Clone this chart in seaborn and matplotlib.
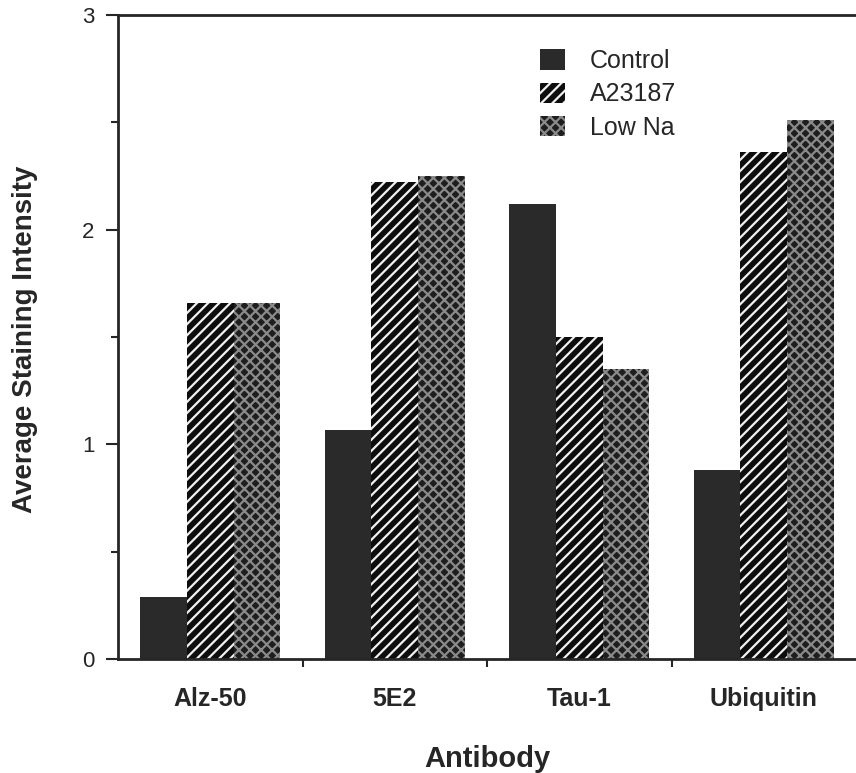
import pandas as pd
import matplotlib.pyplot as plt
import seaborn as sns
from matplotlib.ticker import MultipleLocator, FixedLocator

# Data
antibodies = ['Alz-50', '5E2', 'Tau-1', 'Ubiquitin']
treatments = ['Control', 'A23187', 'Low Na']
control = [0.29, 1.065, 2.12, 0.88]
a23187 = [1.66, 2.22, 1.50, 2.36]
low_na = [1.66, 2.25, 1.35, 2.51]

df = pd.DataFrame({
    'Antibody': antibodies * 3,
    'Treatment': [t for t in treatments for _ in antibodies],
    'Intensity': control + a23187 + low_na,
})

sns.set_style('ticks')
plt.rcParams['font.family'] = ['Liberation Sans', 'DejaVu Sans']
plt.rcParams['hatch.linewidth'] = 1.6

fig = plt.figure(figsize=(8.56, 7.73), dpi=100)
ax = fig.add_axes([0.138, 0.1475, 0.862, 0.833])

sns.barplot(data=df, x='Antibody', y='Intensity', hue='Treatment',
            order=antibodies, hue_order=treatments, width=0.76,
            palette=['#2a2a2a', '#111111', '#3a3a3a'], saturation=1,
            errorbar=None, ax=ax)

# fill patterns
styles = [('#2a2a2a', '#2a2a2a', ''), ('#0d0d0d', '#f0f0f0', '///'), ('#1e1e1e', '#8a8a8a', 'xxx')]
for cont, (fc, ec, hatch) in zip(ax.containers, styles):
    for bar in cont.patches:
        bar.set_facecolor(fc)
        bar.set_edgecolor(ec)
        bar.set_hatch(hatch)
        bar.set_linewidth(0)

ax.get_legend().remove()
leg = ax.legend(handles=[c.patches[0] for c in ax.containers], labels=treatments,
                loc='upper left', bbox_to_anchor=(0.572, 0.947), frameon=False,
                fontsize=18, handlelength=1.0, handleheight=0.88, labelspacing=0.37,
                handletextpad=1.0, borderpad=0, borderaxespad=0)

ax.set_xlim(-0.5, 3.5)
ax.set_ylim(0, 3)
ax.yaxis.set_major_locator(MultipleLocator(1))
ax.yaxis.set_minor_locator(MultipleLocator(0.5))
ax.xaxis.set_minor_locator(FixedLocator([0.5, 1.5, 2.5]))
ax.tick_params(axis='x', which='major', length=0, pad=20, labelsize=18)
ax.tick_params(axis='x', which='minor', length=6, width=1.5)
ax.tick_params(axis='y', which='major', length=9, width=1.5, labelsize=16, pad=8)
ax.tick_params(axis='y', which='minor', length=5, width=1.5)
for lbl in ax.get_xticklabels():
    lbl.set_fontweight('bold')

for side in ['left', 'top', 'bottom']:
    ax.spines[side].set_visible(True)
    ax.spines[side].set_linewidth(2)
ax.spines['right'].set_visible(False)

ax.set_xlabel('Antibody', fontsize=21, fontweight='bold')
ax.set_ylabel('Average Staining Intensity', fontsize=20, fontweight='bold')
ax.xaxis.set_label_coords(0.5, -0.133)
ax.yaxis.set_label_coords(-0.108, 0.497)

fig.savefig('out.png', dpi=100)
